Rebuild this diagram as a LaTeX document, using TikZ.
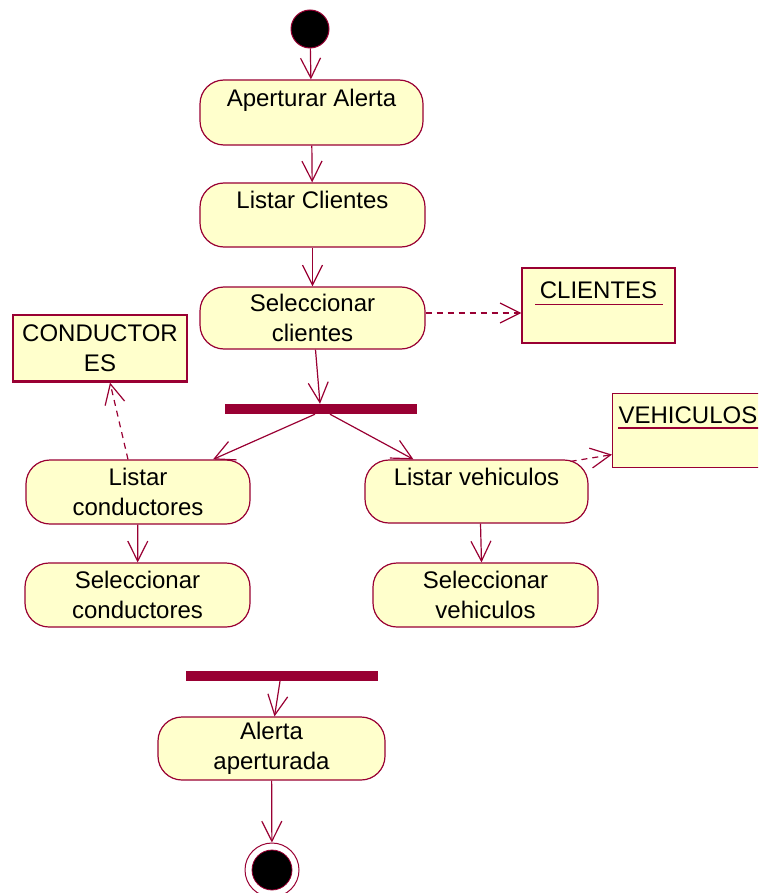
\documentclass[tikz,border=0pt]{standalone}
\usepackage{fontspec}
\setmainfont{Liberation Sans}
\usetikzlibrary{arrows.meta,calc}
\definecolor{umlline}{HTML}{990033}
\definecolor{umlfill}{HTML}{FFFFCC}
\begin{document}
\begin{tikzpicture}[x=1pt,y=-1pt,
  every node/.style={font=\fontsize{24}{30}\selectfont, inner sep=0pt},
  act/.style={draw=umlline, fill=umlfill, line width=1.2pt, rounded corners=24pt,
              align=center, minimum width=224pt, minimum height=64pt},
  obj/.style={draw=umlline, fill=umlfill, line width=1.2pt, align=center},
  syncbar/.style={fill=umlline, minimum width=192pt, minimum height=10pt},
  flow/.style={draw=umlline, line width=1.2pt, -{Straight Barb[length=20pt,width=20pt]}},
  dep/.style={flow, dash pattern=on 6pt off 5pt},
]
\useasboundingbox (0,0) rectangle (758,893);
\clip (0,0) rectangle (758,893);

% initial state
\node[circle, draw=umlline, fill=black, line width=1pt, minimum size=38pt] (start) at (310,29) {};

% activities
\node[act, minimum width=223pt, minimum height=65pt] (a1) at (311.5,112.5) {Aperturar Alerta\\\mbox{}};
\node[act, minimum width=225pt] (a2) at (312.5,215) {Listar Clientes\\\mbox{}};
\node[act, minimum width=225pt, minimum height=62pt] (a3) at (312.5,318) {Seleccionar\\clientes};
\node[act] (a4) at (138,492) {Listar\\conductores};
\node[act, minimum width=223pt, minimum height=63pt] (a5) at (476.5,491.5) {Listar vehiculos\\\mbox{}};
\node[act, minimum width=225pt] (a6) at (137.5,595) {Seleccionar\\conductores};
\node[act, minimum width=225pt] (a7) at (485.5,595) {Seleccionar\\vehiculos};
\node[act, minimum width=227pt, minimum height=63pt] (a8) at (271.5,748.5) {Alerta\\aperturada};

% objects
\node[obj, minimum width=153pt, minimum height=75pt] (clientes) at (598.5,305.5) {CLIENTES\\\mbox{}};
\node[obj, minimum width=174pt, minimum height=67pt] (cond) at (100,348.5) {CONDUCTOR\\ES};
\node[obj, minimum height=74pt, text width=166pt, inner xsep=6pt, align=left,
      anchor=north west] (veh) at (612,393) {VEHICULOS\\\mbox{}};
\draw[umlline, line width=1.2pt] ($(clientes.north west)+(14,37)$) -- ($(clientes.north east)+(-13,37)$);
\draw[umlline, line width=1.2pt] ($(veh.north west)+(6,35)$) -- ($(veh.north east)+(0,35)$);
\draw[umlline, line width=1.2pt] ($(cond.south west)+(2,-2)$) -- ($(cond.south east)+(-2,-2)$);

% synchronisation bars
\node[syncbar] (fork) at (321,409) {};
\node[syncbar] (join) at (281.5,676) {};

% final state
\node[circle, draw=umlline, fill=white, line width=1pt, minimum size=54pt] (end) at (272,870) {};
\node[circle, draw=umlline, fill=black, line width=0.8pt, minimum size=40pt] (endin) at (end) {};

% control flow
\draw[flow] (start) -- (a1);
\draw[flow] (a1) -- (a2);
\draw[flow] (a2) -- (a3);
\draw[flow] ([xshift=3pt]a3.south) -- ([xshift=-1pt]fork.north);
\draw[flow] ([xshift=-6pt]fork.south) -- ([xshift=75pt]a4.north);
\draw[flow] ([xshift=9pt]fork.south) -- ([xshift=-63pt]a5.north);
\draw[flow] (a4) -- (a6);
\draw[flow] ([xshift=4pt]a5.south) -- ([xshift=-4pt]a7.north);
\draw[flow] ([xshift=-1.5pt]join.south) -- ([xshift=3pt]a8.north);
\draw[flow] (a8) -- (end);

% object flow
\coordinate (a3r) at ([yshift=5pt]a3.east);
\draw[dep] (a3r) -- (a3r -| clientes.west);
\draw[dep] ([xshift=-10pt]a4.north) -- ([xshift=10pt]cond.south);
\draw[dep] ([xshift=-18pt,yshift=-2pt]a5.north east) -- ([yshift=-24pt]veh.west);
\end{tikzpicture}
\end{document}
